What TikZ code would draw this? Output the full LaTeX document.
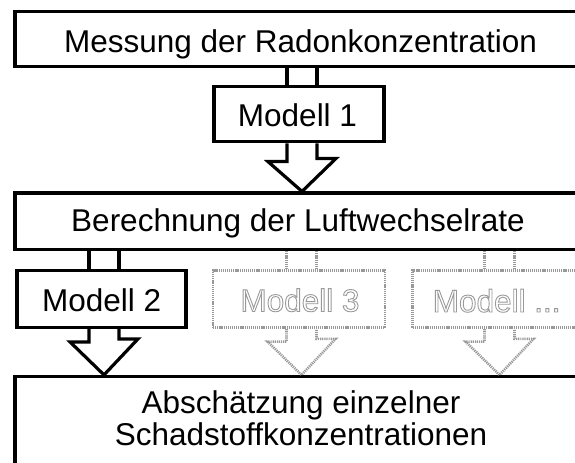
\documentclass[tikz,border=0pt]{standalone}
\usepackage{fontspec}
\setmainfont{Liberation Sans}
\definecolor{faint}{gray}{0.6}
\newcommand{\hollow}[1]{\special{pdf:literal direct 1 Tr 0.9 w}#1\special{pdf:literal direct 0 Tr}}
\begin{document}
\begin{tikzpicture}[x=1bp,y=-1bp,
  box/.style={draw=black, line width=3.2bp, inner sep=0pt, rectangle},
  ghostbox/.style={draw=faint, line width=2.6bp, dash pattern=on 1.2bp off 0.9bp, inner sep=0pt, rectangle},
  txt/.style={anchor=base, inner sep=0pt, font=\fontsize{31.5bp}{32bp}\selectfont},
  ghosttxt/.style={txt, text=faint},
  conn/.style={draw=black, line width=3.2bp, line join=miter},
  ghostconn/.style={draw=faint, line width=2.6bp, dash pattern=on 1.2bp off 0.9bp, line join=miter},
]
\useasboundingbox (0,0) rectangle (575,463);

% main boxes
\node[box, minimum width=570bp, minimum height=55bp] (mess) at (300,39.2) {};
\node[box, minimum width=570bp, minimum height=56.5bp] (ber) at (300,221.3) {};
\node[box, minimum width=570bp, minimum height=120bp] (abs) at (300,436.5) {};

% model boxes
\node[box, minimum width=170bp, minimum height=55bp] (m1) at (299,114.2) {};
\node[box, minimum width=169bp, minimum height=56.6bp] (m2) at (101.5,299) {};
\node[ghostbox, minimum width=172bp, minimum height=57.5bp] (m3) at (299,299) {};
\node[ghostbox, minimum width=170bp, minimum height=57.5bp] (mn) at (497.7,299) {};

% texts
\node[txt] (messT) at (300.5,52.7) {Messung der Radonkonzentration};
\node[txt] (berT) at (298,231.7) {Berechnung der Luftwechselrate};
\node[txt] (absT1) at (301,413) {Abschätzung einzelner};
\node[txt] (absT2) at (301,445) {Schadstoffkonzentrationen};
\node[txt] (m1T) at (297.5,126.7) {Modell 1};
\node[txt] (m2T) at (101.7,311.7) {Modell 2};
\node[ghosttxt] (m3T) at (300,311.5) {\hollow{Modell 3}};
\node[ghosttxt] (mnT) at (496.7,312) {\hollow{Modell ...}};

% connector axes
\coordinate (c1) at (302,0);   \coordinate (c1l) at (287,0);   \coordinate (c1r) at (317,0);
\coordinate (c2) at (104,0);   \coordinate (c2l) at (89,0);    \coordinate (c2r) at (119,0);
\coordinate (c3) at (301.5,0); \coordinate (c3l) at (286.5,0); \coordinate (c3r) at (316.5,0);
\coordinate (c4) at (499.5,0); \coordinate (c4l) at (484.5,0); \coordinate (c4r) at (514.5,0);

% Modell 1
\draw[conn] (c1l |- mess.south) -- (c1l |- m1.north);
\draw[conn] (c1r |- mess.south) -- (c1r |- m1.north);
\draw[conn] (c1l |- m1.south) -- ++(0,18.3) -- ++(-19,0) -- (c1 |- ber.north)
  -- ++(34,-33) -- ++(-19,0) -- (c1r |- m1.south);

% Modell 2
\draw[conn] (c2l |- ber.south) -- (c2l |- m2.north);
\draw[conn] (c2r |- ber.south) -- (c2r |- m2.north);
\draw[conn] (c2l |- m2.south) -- ++(0,13) -- ++(-19,0) -- (c2 |- abs.north)
  -- ++(34,-36) -- ++(-19,0) -- (c2r |- m2.south);

% Modell 3 (faint)
\draw[ghostconn] (c3l |- ber.south) -- (c3l |- m3.north);
\draw[ghostconn] (c3r |- ber.south) -- (c3r |- m3.north);
\draw[ghostconn] (c3l |- m3.south) -- ++(0,12.5) -- ++(-19,0) -- (c3 |- abs.north)
  -- ++(34,-36) -- ++(-19,0) -- (c3r |- m3.south);

% Modell ... (faint)
\draw[ghostconn] (c4l |- ber.south) -- (c4l |- mn.north);
\draw[ghostconn] (c4r |- ber.south) -- (c4r |- mn.north);
\draw[ghostconn] (c4l |- mn.south) -- ++(0,12.5) -- ++(-19,0) -- (c4 |- abs.north)
  -- ++(34,-36) -- ++(-19,0) -- (c4r |- mn.south);
\end{tikzpicture}
\end{document}
